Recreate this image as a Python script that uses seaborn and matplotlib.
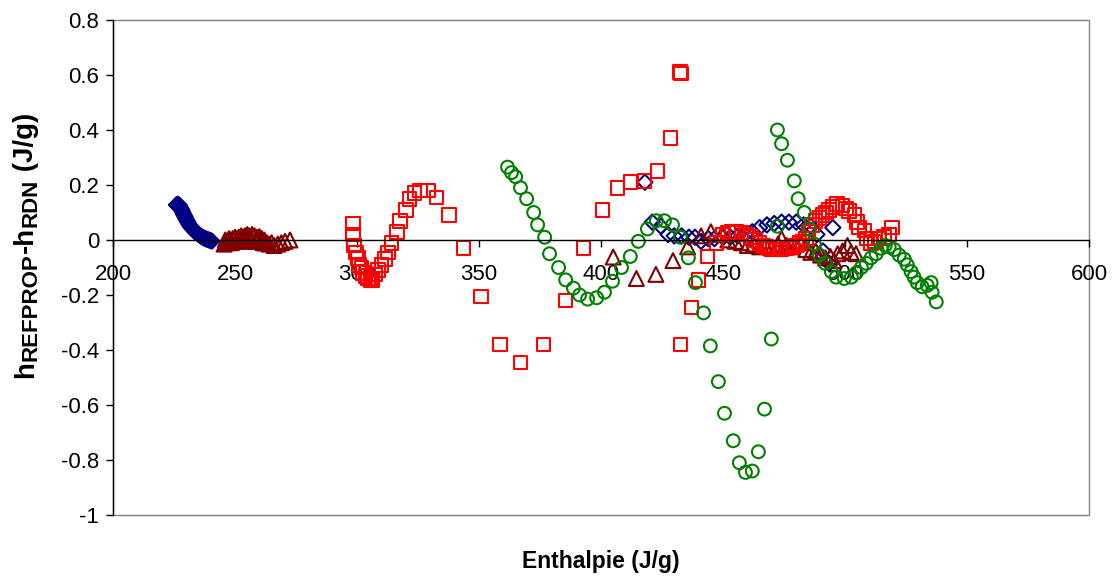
import matplotlib
matplotlib.use('Agg')
import matplotlib.pyplot as plt
import matplotlib.patches as patches
from matplotlib.transforms import IdentityTransform
from matplotlib.ticker import FuncFormatter, MultipleLocator
import seaborn as sns

# navy diamonds
diamond_x = [226.0, 226.3, 226.6, 226.9, 227.2, 227.5, 227.8, 228.1, 228.4, 228.7,
             229.0, 229.3, 229.6, 229.9, 230.3, 230.7, 231.1, 231.5, 231.9, 232.4,
             232.9, 233.4, 233.9, 234.5, 235.1, 235.7, 236.3, 236.9, 237.5, 238.1,
             238.7, 239.3, 239.9, 240.5,
             418.0, 421.0, 424.5, 427.5, 430.0, 433.0, 436.0, 438.5, 441.0, 444.0,
             446.5, 450.0, 453.0, 456.0, 459.0, 462.0, 465.0, 468.0, 471.0, 474.0,
             477.0, 480.0, 483.0, 486.0, 488.5, 491.0, 493.5, 495.0]
diamond_y = [0.128, 0.125, 0.130, 0.122, 0.126, 0.118, 0.115, 0.110, 0.104, 0.098,
             0.092, 0.088, 0.082, 0.076, 0.070, 0.064, 0.058, 0.052, 0.047, 0.042,
             0.037, 0.032, 0.028, 0.024, 0.020, 0.016, 0.012, 0.009, 0.006, 0.004,
             0.002, 0.000, -0.002, -0.004,
             0.21, 0.065, 0.05, 0.02, 0.015, 0.015, 0.01, 0.01, -0.005, 0.005,
             0.005, 0.01, 0.01, 0.015, 0.02, 0.03, 0.045, 0.055, 0.06, 0.065,
             0.065, 0.065, 0.055, 0.05, 0.02, -0.04, -0.085, 0.045]

# maroon triangles
triangle_x = [245.5, 246.0, 246.5, 247.0, 247.5, 248.0, 248.5, 249.0,
              249.5, 250.0, 250.5, 251.0, 251.5, 252.0, 252.5, 253.0, 253.5, 254.0,
              254.5, 255.0, 255.5, 256.0, 256.5, 257.0, 257.5, 258.0, 258.5, 259.0,
              259.5, 260.0, 260.5, 261.0, 261.5, 262.0, 262.5, 263.0, 264.0, 265.0,
              266.0, 267.5, 269.0, 270.5, 272.5,
              405.0, 414.5, 422.5, 429.5, 435.5, 441.0, 445.0, 449.5, 452.0, 455.0,
              457.5, 460.0, 462.5, 465.0, 467.5, 470.0, 472.5, 474.0, 476.0, 478.0,
              480.0, 482.0, 484.0, 486.0, 488.0, 490.0, 492.0, 494.0, 495.5, 497.0,
              499.0, 501.0, 502.5, 504.5]
triangle_y = [-0.015, 0.0, -0.01, -0.005, 0.005, 0.0, -0.01, 0.005,
              0.0, 0.01, -0.005, 0.005, 0.01, 0.0, 0.015, 0.01, -0.005, 0.015,
              0.005, 0.02, 0.01, 0.015, 0.0, 0.02, 0.01, 0.015, -0.005, 0.01,
              0.005, 0.012, -0.005, 0.005, -0.01, 0.0, -0.01, -0.01, -0.015, -0.01,
              -0.02, -0.015, -0.01, -0.005, 0.0,
              -0.062, -0.14, -0.125, -0.075, -0.025, 0.015, 0.03, 0.02, 0.0, -0.005,
              -0.01, -0.02, -0.015, -0.025, -0.02, -0.03, -0.015, 0.005, -0.02, -0.025,
              -0.015, -0.01, -0.035, -0.045, -0.04, -0.055, -0.065, -0.06, -0.075, -0.05,
              -0.04, -0.02, -0.045, -0.05]

# red squares
square_x = [298.3, 298.3, 298.7, 299.5, 300.3, 300.7, 301.8, 302.4, 303.5, 304.6,
            305.5, 306.4, 307.3, 308.5, 310.0, 311.4, 312.6, 314.2, 316.3, 317.5,
            320.0, 321.5, 323.6, 325.7, 329.0, 332.6, 337.6, 343.7, 350.7, 358.5,
            367.0, 376.5, 385.5, 392.8, 400.6, 406.8, 412.0, 417.8, 423.1, 428.5,
            432.3, 432.8, 432.5, 437.0, 439.9, 443.6, 447.3, 449.7, 452.0, 453.5,
            455.5, 457.5, 459.6, 461.5, 463.0, 464.9, 466.5, 467.8, 469.0, 470.2,
            472.0, 474.0, 476.0, 478.4, 480.0, 481.3, 482.5, 484.0, 485.0, 486.5,
            488.0, 489.5, 490.7, 492.3, 493.5, 494.8, 496.8, 498.9, 500.5, 501.7,
            503.8, 505.0, 505.8, 507.9, 509.1, 510.7, 512.0, 514.0, 516.0, 518.0,
            519.3]
square_y = [0.06, 0.02, -0.02, -0.045, -0.065, -0.09, -0.1, -0.12, -0.13, -0.14,
            -0.145, -0.145, -0.125, -0.11, -0.09, -0.07, -0.045, -0.01, 0.03, 0.07,
            0.11, 0.15, 0.17, 0.18, 0.18, 0.155, 0.09, -0.03, -0.205, -0.38,
            -0.445, -0.38, -0.22, -0.03, 0.11, 0.19, 0.21, 0.215, 0.25, 0.37,
            0.61, 0.605, -0.38, -0.245, -0.145, -0.06, -0.01, 0.02, 0.025, 0.03,
            0.03, 0.025, 0.02, 0.01, 0.0, -0.01, -0.02, -0.025, -0.03, -0.035,
            -0.035, -0.035, -0.03, -0.025, -0.02, -0.01, -0.005, 0.005, 0.03, 0.055,
            0.07, 0.08, 0.09, 0.1, 0.11, 0.12, 0.13, 0.125, 0.115, 0.105,
            0.09, 0.065, 0.045, 0.035, 0.005, -0.01, -0.005, 0.005, 0.01, 0.02,
            0.045]

# green circles
circle_x = [361.7, 363.3, 365.0, 367.0, 369.5, 372.4, 374.0, 376.9, 378.9, 382.6,
            385.5, 388.7, 391.2, 394.5, 398.2, 401.4, 404.7, 408.4, 412.0, 415.3,
            419.0, 422.7, 426.0, 429.3, 432.5, 435.8, 438.7, 442.0, 444.8, 448.1,
            450.6, 454.2, 456.7, 459.2, 462.0, 464.5, 467.0, 469.8, 472.3, 472.3,
            474.0, 476.4, 479.2, 480.8, 483.3, 485.4, 487.4, 489.5, 491.9, 494.4,
            496.4, 499.7, 502.6, 504.6, 506.7, 508.7, 510.7, 512.8, 514.8, 516.5,
            518.1, 520.2, 522.2, 524.3, 525.5, 527.1, 528.3, 529.6, 531.6, 533.7,
            535.3, 535.7, 537.4]
circle_y = [0.265, 0.245, 0.23, 0.19, 0.15, 0.1, 0.055, 0.01, -0.05, -0.1,
            -0.145, -0.175, -0.2, -0.215, -0.21, -0.19, -0.15, -0.1, -0.06, -0.005,
            0.04, 0.07, 0.07, 0.055, 0.01, -0.065, -0.155, -0.265, -0.385, -0.515,
            -0.63, -0.73, -0.81, -0.845, -0.84, -0.77, -0.615, -0.36, 0.05, 0.4,
            0.35, 0.29, 0.215, 0.15, 0.1, 0.04, -0.015, -0.055, -0.085, -0.115,
            -0.135, -0.14, -0.135, -0.12, -0.1, -0.085, -0.065, -0.05, -0.03, -0.02,
            -0.025, -0.035, -0.055, -0.07, -0.09, -0.115, -0.135, -0.155, -0.17, -0.165,
            -0.155, -0.19, -0.225]

x_ticks = [200, 250, 300, 350, 400, 450, 500, 550, 600]

# y label pieces: (text, fontsize, subscript?)
ylabel_parts = [('h', 20, False), ('REFPROP', 16, True), ('-h', 20, False),
                ('RDN', 16, True), (' (J/g)', 20, False)]

sns.set_style('white')
plt.rcParams['font.family'] = ['Liberation Sans', 'DejaVu Sans']
plt.rcParams['text.color'] = 'black'
plt.rcParams['axes.labelcolor'] = 'black'
plt.rcParams['xtick.color'] = 'black'
plt.rcParams['ytick.color'] = 'black'

fig = plt.figure(figsize=(11.16, 5.79), dpi=100)
ax = fig.add_axes([0.1013, 0.1105, 0.8745, 0.855])

sns.scatterplot(x=diamond_x, y=diamond_y, ax=ax, marker='D', s=60,
                facecolor='none', edgecolor='#000080', linewidth=1.5)
sns.scatterplot(x=triangle_x, y=triangle_y, ax=ax, marker='^', s=115,
                facecolor='none', edgecolor='#800000', linewidth=1.5)
sns.scatterplot(x=square_x, y=square_y, ax=ax, marker='s', s=95,
                facecolor='none', edgecolor='#FF0000', linewidth=1.5)
sns.scatterplot(x=circle_x, y=circle_y, ax=ax, marker='o', s=85,
                facecolor='none', edgecolor='#008000', linewidth=1.5)

ax.set_xlim(200, 600)
ax.set_ylim(-1, 0.8)
ax.set_xticks(x_ticks)
ax.yaxis.set_major_locator(MultipleLocator(0.2))
ax.yaxis.set_major_formatter(FuncFormatter(lambda v, p: f'{round(v, 1):g}' if abs(v) > 1e-9 else '0'))

for side in ['top', 'right']:
    ax.spines[side].set_visible(False)
ax.spines['bottom'].set_position(('data', 0))
ax.spines['bottom'].set_color('black')
ax.spines['bottom'].set_linewidth(1.0)
ax.spines['left'].set_color('black')
ax.spines['left'].set_linewidth(1.0)
ax.add_patch(patches.Rectangle((0, 0), 1, 1, transform=ax.transAxes, fill=False,
                               edgecolor='#808080', linewidth=1.0, clip_on=False, zorder=0))

ax.tick_params(axis='x', direction='out', length=5, width=1, pad=12, labelsize=16, bottom=True)
ax.tick_params(axis='y', direction='out', length=5, width=1, pad=5, labelsize=16, left=True)

ax.set_xlabel('Enthalpie (J/g)', fontsize=16.5, fontweight='bold')
ax.xaxis.set_label_coords(0.5, -0.07)

# y label built piece by piece so the subscripts keep Excel's larger size
renderer = fig.canvas.get_renderer()
base_x = 33
cur_y = 579 - 378
for text, size, sub in ylabel_parts:
    t = fig.text(base_x + (4 if sub else 0), cur_y, text, fontsize=size, fontweight='bold',
                 rotation=90, rotation_mode='anchor', ha='left', va='baseline',
                 transform=IdentityTransform())
    cur_y += t.get_window_extent(renderer).height

fig.savefig('out.png', dpi=100)
